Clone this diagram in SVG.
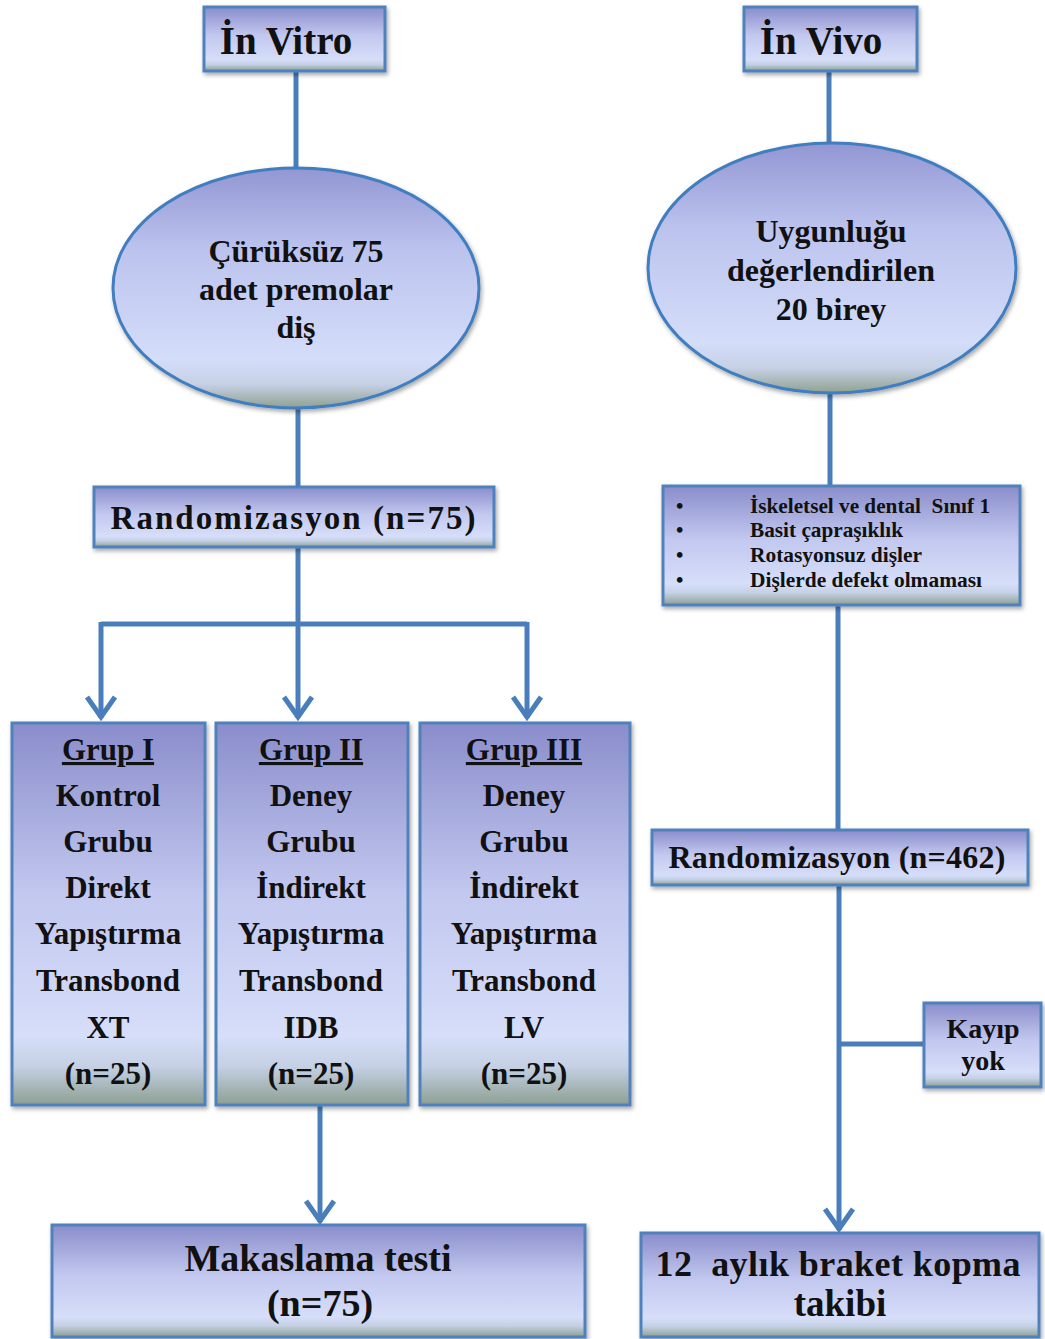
<svg xmlns="http://www.w3.org/2000/svg" width="1045" height="1339" viewBox="0 0 1045 1339">
<defs>
<linearGradient id="gBox" x1="0" y1="0" x2="0" y2="1">
<stop offset="0" stop-color="#8a8dcb"/>
<stop offset="0.45" stop-color="#c2c8ef"/>
<stop offset="0.82" stop-color="#d6def9"/>
<stop offset="0.9" stop-color="#c4d0e4"/>
<stop offset="1" stop-color="#8c9f92"/>
</linearGradient>
<linearGradient id="gEll" x1="0" y1="0" x2="0" y2="1">
<stop offset="0" stop-color="#9396d3"/>
<stop offset="0.35" stop-color="#bcc4ee"/>
<stop offset="0.8" stop-color="#d4ddf9"/>
<stop offset="0.9" stop-color="#c6d1e6"/>
<stop offset="1" stop-color="#8fa190"/>
</linearGradient>
<filter id="sh" x="-10%" y="-10%" width="120%" height="130%">
<feDropShadow dx="1.5" dy="2.5" stdDeviation="2" flood-color="#000" flood-opacity="0.35"/>
</filter>
<marker id="arr" markerUnits="userSpaceOnUse" viewBox="-26 -17 30 34" refX="0" refY="0" markerWidth="30" markerHeight="34" orient="auto">
<path d="M-21,-14 L-1,0 L-21,14" fill="none" stroke="#4a7ebb" stroke-width="5"/>
</marker>
</defs>
<style>
.box{fill:url(#gBox);stroke:#4f81bd;stroke-width:3;filter:url(#sh)}
.ell{fill:url(#gEll);stroke:#3f7ebf;stroke-width:3;filter:url(#sh)}
.c{fill:none;stroke:#4a7ebb;stroke-width:5}
text{font-family:"Liberation Serif","Times New Roman",serif;font-weight:bold;fill:#111;text-anchor:middle}
.s31{font-size:31px}
.s32{font-size:32px}
.sm{font-size:21px;text-anchor:start}
</style>
<rect width="1045" height="1339" fill="#fff"/>

<g id="connectors">
<path class="c" d="M296,71 V168"/>
<path class="c" d="M298,408 V487"/>
<path class="c" d="M298,547 V624"/>
<path class="c" d="M101,624 H527"/>
<path class="c" d="M101,622 V718" marker-end="url(#arr)"/>
<path class="c" d="M298,624 V718" marker-end="url(#arr)"/>
<path class="c" d="M527,622 V718" marker-end="url(#arr)"/>
<path class="c" d="M320,1105 V1222" marker-end="url(#arr)"/>
<path class="c" d="M829,71 V144"/>
<path class="c" d="M830,393 V486"/>
<path class="c" d="M838,605 V830"/>
<path class="c" d="M839,885 V1230" marker-end="url(#arr)"/>
<path class="c" d="M839,1044 H924"/>
</g>

<g id="in-vitro">
<rect class="box" x="204" y="7" width="181" height="64"/>
<text x="286" y="54" style="font-size:39px">İn Vitro</text>
</g>
<g id="in-vivo">
<rect class="box" x="744" y="7" width="173" height="64"/>
<text x="821" y="54" style="font-size:39px">İn Vivo</text>
</g>

<g id="teeth">
<ellipse class="ell" cx="296" cy="288" rx="183" ry="120"/>
<text class="s32" x="296" y="262">Çürüksüz 75</text>
<text class="s32" x="296" y="300">adet premolar</text>
<text class="s32" x="296" y="338">diş</text>
</g>
<g id="subjects">
<ellipse class="ell" cx="832" cy="268" rx="184" ry="125"/>
<text class="s32" x="831" y="242">Uygunluğu</text>
<text class="s32" x="831" y="281">değerlendirilen</text>
<text class="s32" x="831" y="320">20 birey</text>
</g>

<g id="random-75">
<rect class="box" x="94" y="487" width="400" height="60"/>
<text x="293" y="529" style="font-size:33px" textLength="365">Randomizasyon (n=75)</text>
</g>

<g id="criteria">
<rect class="box" x="663" y="486" width="357" height="119"/>
<text class="sm" x="676" y="513">•</text>
<text class="sm" x="676" y="537">•</text>
<text class="sm" x="676" y="562">•</text>
<text class="sm" x="676" y="587">•</text>
<text class="sm" x="750" y="513" textLength="240" lengthAdjust="spacingAndGlyphs" style="white-space:pre">İskeletsel ve dental  Sınıf 1</text>
<text class="sm" x="750" y="537" textLength="153" lengthAdjust="spacingAndGlyphs">Basit çapraşıklık</text>
<text class="sm" x="750" y="562" textLength="172" lengthAdjust="spacingAndGlyphs">Rotasyonsuz dişler</text>
<text class="sm" x="750" y="587" textLength="232" lengthAdjust="spacingAndGlyphs">Dişlerde defekt olmaması</text>
</g>

<g id="grup-1">
<rect class="box" x="12" y="723" width="193" height="382"/>
<text class="s31" x="108" y="760" text-decoration="underline">Grup I</text>
<text class="s31" x="108" y="806">Kontrol</text>
<text class="s31" x="108" y="852">Grubu</text>
<text class="s31" x="108" y="898">Direkt</text>
<text class="s31" x="108" y="944">Yapıştırma</text>
<text class="s31" x="108" y="991">Transbond</text>
<text class="s31" x="108" y="1038">XT</text>
<text class="s31" x="108" y="1084">(n=25)</text>
</g>
<g id="grup-2">
<rect class="box" x="216" y="723" width="192" height="382"/>
<text class="s31" x="311" y="760" text-decoration="underline">Grup II</text>
<text class="s31" x="311" y="806">Deney</text>
<text class="s31" x="311" y="852">Grubu</text>
<text class="s31" x="311" y="898">İndirekt</text>
<text class="s31" x="311" y="944">Yapıştırma</text>
<text class="s31" x="311" y="991">Transbond</text>
<text class="s31" x="311" y="1038">IDB</text>
<text class="s31" x="311" y="1084">(n=25)</text>
</g>
<g id="grup-3">
<rect class="box" x="420" y="723" width="210" height="382"/>
<text class="s31" x="524" y="760" text-decoration="underline">Grup III</text>
<text class="s31" x="524" y="806">Deney</text>
<text class="s31" x="524" y="852">Grubu</text>
<text class="s31" x="524" y="898">İndirekt</text>
<text class="s31" x="524" y="944">Yapıştırma</text>
<text class="s31" x="524" y="991">Transbond</text>
<text class="s31" x="524" y="1038">LV</text>
<text class="s31" x="524" y="1084">(n=25)</text>
</g>

<g id="random-462">
<rect class="box" x="652" y="830" width="376" height="55"/>
<text x="837" y="868" style="font-size:32px" textLength="337">Randomizasyon (n=462)</text>
</g>

<g id="kayip-yok">
<rect class="box" x="924" y="1003" width="117" height="84"/>
<text x="983" y="1038" style="font-size:28px">Kayıp</text>
<text x="983" y="1070" style="font-size:28px">yok</text>
</g>

<g id="makaslama">
<rect class="box" x="52" y="1225" width="533" height="112"/>
<text x="318" y="1271" style="font-size:38px">Makaslama testi</text>
<text x="320" y="1316" style="font-size:38px">(n=75)</text>
</g>

<g id="takip">
<rect class="box" x="641" y="1233" width="398" height="104"/>
<text x="838" y="1276" style="font-size:36px;white-space:pre" textLength="365">12  aylık braket kopma</text>
<text x="840" y="1316" style="font-size:37px">takibi</text>
</g>
</svg>
